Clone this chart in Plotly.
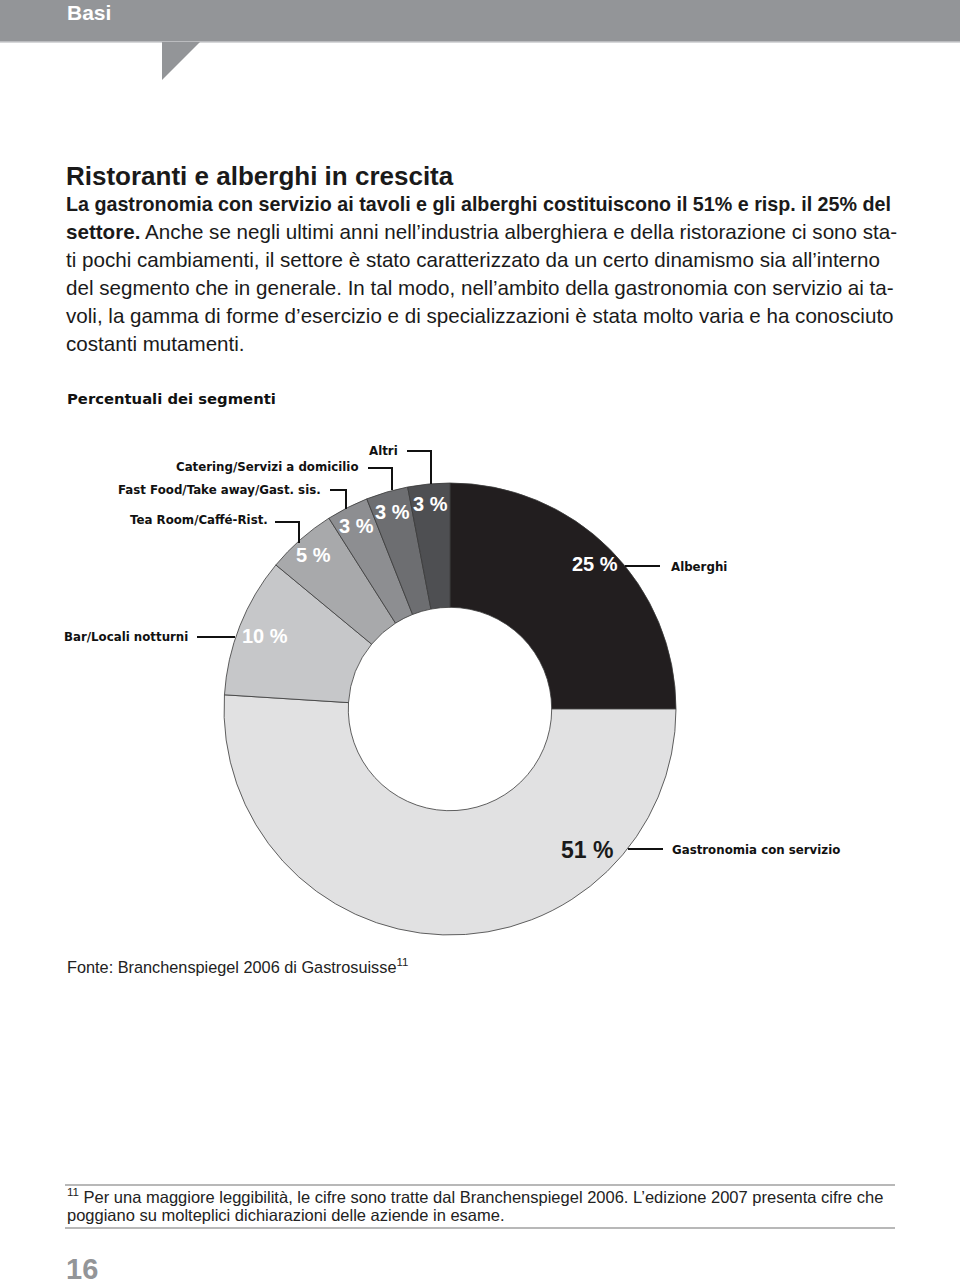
import math
import plotly.graph_objects as go

# segment data (share of the sector, %)
segments = ['Alberghi', 'Gastronomia con servizio', 'Bar/Locali notturni', 'Tea Room/Caffé-Rist.',
            'Fast Food/Take away/Gast. sis.', 'Catering/Servizi a domicilio', 'Altri']
shares = [25, 51, 10, 5, 3, 3, 3]
colors = ['#221e1f', '#e1e1e2', '#c6c7c9', '#a8a9ab', '#8d8e91', '#6d6e71', '#4e4f52']
pct_colors = ['white', '#1a1a1a', 'white', 'white', 'white', 'white', 'white']

title = 'Ristoranti e alberghi in crescita'
body_lines = [
    '<b>La gastronomia con servizio ai tavoli e gli alberghi costituiscono il 51% e risp. il 25% del</b>',
    '<b>settore.</b> Anche se negli ultimi anni nell’industria alberghiera e della ristorazione ci sono sta-',
    'ti pochi cambiamenti, il settore è stato caratterizzato da un certo dinamismo sia all’interno',
    'del segmento che in generale. In tal modo, nell’ambito della gastronomia con servizio ai ta-',
    'voli, la gamma di forme d’esercizio e di specializzazioni è stata molto varia e ha conosciuto',
    'costanti mutamenti.',
]
chart_title = 'Percentuali dei segmenti'
source = 'Fonte: Branchenspiegel 2006 di Gastrosuisse<sup>11</sup>'
footnote_lines = [
    '<sup>11</sup> Per una maggiore leggibilità, le cifre sono tratte dal Branchenspiegel 2006. L’edizione 2007 presenta cifre che',
    'poggiano su molteplici dichiarazioni delle aziende in esame.',
]

W, H = 960, 1287
CX, CY, R = 450, 709, 226
TEXT = 'Liberation Sans, Arial, sans-serif'
HEAVY = 'DejaVu Sans, Arial, sans-serif'

fig = go.Figure()
fig.add_trace(go.Pie(
    labels=segments, values=shares, sort=False, direction='clockwise', rotation=0,
    hole=0.45, textinfo='none', hoverinfo='label+value', showlegend=False,
    marker=dict(colors=colors, line=dict(color='#3a3a3a', width=0.8)),
    domain=dict(x=[(CX - R) / W, (CX + R) / W], y=[1 - (CY + R) / H, 1 - (CY - R) / H]),
))


def note(x, y, text, size, family, color='#111', anchor='left'):
    return dict(x=x, y=y, xref='x', yref='y', text=text, xanchor=anchor, yanchor='middle',
                showarrow=False, font=dict(family=family, size=size, color=color))


# percent labels sit near the outer edge of each slice
total = sum(shares)
cum = 0
label_r = {1: 0.87, 2: 0.88}
label_angle = {1: 136}
ann = []
for i, v in enumerate(shares):
    mid = (cum + v / 2) / total * 360
    cum += v
    ang = math.radians(label_angle.get(i, mid))
    rr = R * label_r.get(i, 0.91)
    ann.append(note(CX + rr * math.sin(ang), CY - rr * math.cos(ang), f'<b>{v} %</b>',
                    23 if i == 1 else 20, TEXT, pct_colors[i], 'center'))


def shp(**kw):
    kw.setdefault('xref', 'x')
    kw.setdefault('yref', 'y')
    return kw


# page header and rules
shapes = [
    shp(type='rect', x0=0, x1=W, y0=0, y1=42, fillcolor='#939598', line_width=0, layer='below'),
    shp(type='line', x0=0, x1=W, y0=42, y1=42, line=dict(color='#c9cacc', width=1.5)),
    shp(type='path', path='M 162 42 L 200 42 L 162 80 Z', fillcolor='#939598', line_width=0),
    shp(type='line', x0=65, x1=895, y0=1185, y1=1185, line=dict(color='#a0a0a0', width=1.5)),
    shp(type='line', x0=65, x1=895, y0=1228, y1=1228, line=dict(color='#a0a0a0', width=1.5)),
]

# leader lines
leaders = [
    'M 407 451 L 431 451 L 431 484',
    'M 368 468 L 392 468 L 392 490',
    'M 330 490 L 346 490 L 346 509',
    'M 275 522 L 299 522 L 299 543',
    'M 197 637 L 235 637',
    'M 625 566 L 660 566',
    'M 628 849 L 663 849',
]
for p in leaders:
    shapes.append(shp(type='path', path=p, line=dict(color='#111', width=2)))

labels = [
    (400, 451, 'Altri', 'right'),
    (361, 467, 'Catering/Servizi a domicilio', 'right'),
    (323, 490, 'Fast Food/Take away/Gast. sis.', 'right'),
    (270, 520, 'Tea Room/Caffé-Rist.', 'right'),
    (190, 637, 'Bar/Locali notturni', 'right'),
    (669, 567, 'Alberghi', 'left'),
    (670, 850, 'Gastronomia con servizio', 'left'),
]
for x, y, t, a in labels:
    ann.append(note(x, y, f'<b>{t}</b>', 11.8, HEAVY, '#111', a))

ann.append(note(65, 12, '<b>Basi</b>', 21, TEXT, 'white'))
ann.append(note(64, 176, f'<b>{title}</b>', 26, TEXT, '#1a1a1a'))
for k, line in enumerate(body_lines):
    ann.append(note(64, 204 + k * 27.8, line, 19.7 if k == 0 else 20.6, TEXT, '#1a1a1a'))
ann.append(note(65, 398, f'<b>{chart_title}</b>', 14.8, HEAVY))
ann.append(note(65, 966, source, 16.3, TEXT, '#222'))
for k, line in enumerate(footnote_lines):
    ann.append(note(65, 1196 + k * 19, line, 16.5, TEXT, '#222'))
ann.append(note(64, 1269, '<b>16</b>', 29, TEXT, '#939598'))

fig.update_layout(
    width=W, height=H, margin=dict(l=0, r=0, t=0, b=0),
    paper_bgcolor='white', plot_bgcolor='rgba(0,0,0,0)',
    xaxis=dict(range=[0, W], visible=False, fixedrange=True),
    yaxis=dict(range=[H, 0], visible=False, fixedrange=True),
    shapes=shapes, annotations=ann,
)
fig.write_html('out.html', config={'displayModeBar': False},
               post_script="document.body.style.margin='0';")
